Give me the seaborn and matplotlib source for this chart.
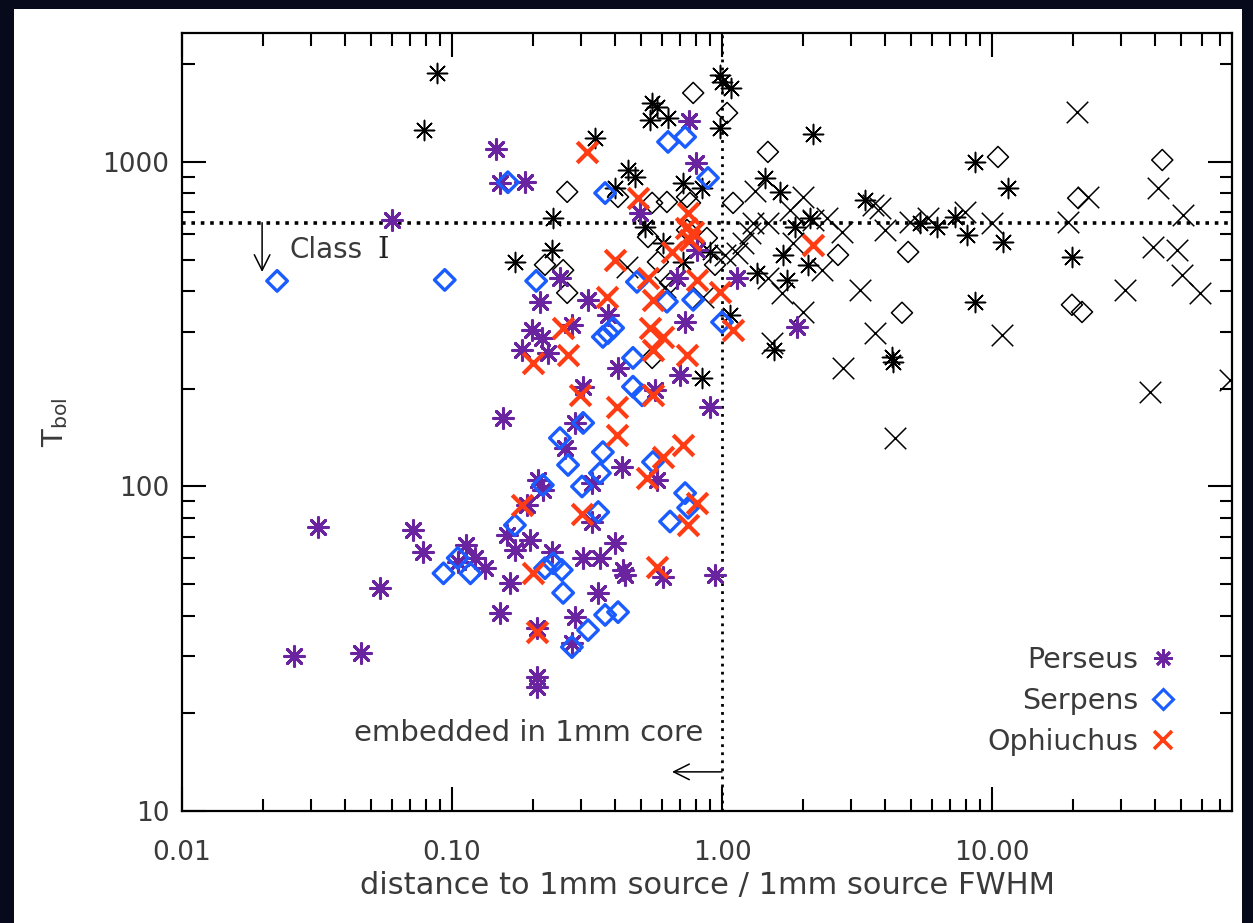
import numpy as np
import pandas as pd
import matplotlib
matplotlib.use("Agg")
import matplotlib.pyplot as plt
from matplotlib.lines import Line2D
from matplotlib.patches import Rectangle
from matplotlib.ticker import FixedLocator, FixedFormatter, LogLocator, NullFormatter
import seaborn as sns

# ---------------- data ----------------
# Perseus protostars (purple asterisks)
perseus_x = [0.146, 0.151, 0.186, 0.060, 0.755, 0.801, 0.497, 0.807, 0.251, 0.681,
             1.137, 0.212, 0.319, 0.378, 0.278, 0.730, 1.895, 0.198, 0.216, 0.182,
             0.227, 0.306, 0.412, 0.698, 0.565, 0.904, 0.155, 0.286, 0.262, 0.427,
             0.330, 0.208, 0.217, 0.574, 0.190, 0.330, 0.160, 0.195, 0.171, 0.402,
             0.235, 0.306, 0.353, 0.430, 0.438, 0.604, 0.942, 0.164, 0.348, 0.286,
             0.151, 0.207, 0.278, 0.207, 0.207, 0.032, 0.072, 0.078, 0.113, 0.122,
             0.133, 0.054, 0.026, 0.046, 0.105]
perseus_y = [1096, 860, 866, 662, 1337, 993, 696, 535, 439, 439,
             439, 371, 376, 337, 315, 321, 310, 303, 287, 264,
             258, 203, 232, 221, 198, 176, 163, 157, 131, 115,
             102.5, 105, 97.5, 105, 88, 78, 71, 68.4, 63.7, 67,
             62.8, 60, 60, 55.3, 53.4, 52.6, 53.4, 50.4, 47, 39.6,
             40.7, 36.6, 32.9, 25.9, 24.1, 75, 73.4, 62.8, 66.1, 60.2,
             56.1, 48.7, 30.1, 30.7, 58.5]

# Serpens protostars (blue diamonds)
serpens_x = [0.0225, 0.094, 0.161, 0.205, 0.369, 0.631, 0.730, 0.887, 0.484, 0.625,
             0.782, 1.0, 0.362, 0.378, 0.395, 0.468, 0.468, 0.506, 0.306, 0.251,
             0.362, 0.269, 0.353, 0.555, 0.303, 0.217, 0.730, 0.749, 0.348, 0.642,
             0.171, 0.221, 0.237, 0.255, 0.093, 0.105, 0.117, 0.258, 0.319, 0.369,
             0.412, 0.278]
serpens_y = [430, 433, 866, 430, 802, 1153, 1194, 893, 427, 371,
             376, 321, 289, 297, 308, 249, 203, 191, 157, 141,
             127.6, 116.5, 110, 119, 100, 101, 95.4, 86, 83.4, 78,
             76, 56, 58, 55.3, 54, 60.2, 54, 47, 36.1, 40.2,
             41, 32]

# Ophiuchus protostars (red crosses)
ophiuchus_x = [0.316, 0.488, 0.749, 0.736, 0.782, 0.761, 0.653, 0.402, 0.532, 0.807,
               0.984, 1.099, 2.174, 0.375, 0.555, 0.298, 0.258, 0.269, 0.200, 0.541,
               0.604, 0.555, 0.742, 0.408, 0.555, 0.408, 0.718, 0.604, 0.527, 0.182,
               0.303, 0.807, 0.749, 0.200, 0.574, 0.207]
ophiuchus_y = [1074, 774, 696, 626, 608, 575, 528, 499, 439, 433,
               398, 303, 555, 384, 376, 191, 308, 254, 240, 308,
               289, 264, 254, 176, 191, 144, 134, 123, 106, 88,
               82, 89, 76, 54, 56.5, 35.6]

# Class II comparison sources (black)
perseus2_x = [0.088, 0.079, 0.339, 0.551, 0.574, 0.541, 0.631, 0.984, 1.0, 1.079,
              0.984, 0.448, 0.476, 0.402, 0.718, 0.843, 0.237, 0.519, 0.604, 0.718,
              0.235, 0.171, 0.843, 1.071, 2.174, 1.443, 1.640, 3.388, 2.118, 1.864,
              1.682, 1.348, 1.741, 2.083, 1.558, 4.27, 4.30, 5.41, 6.25, 7.29,
              8.07, 10.99, 8.65, 11.46, 19.77, 8.65, 0.904]
perseus2_y = [1880, 1255, 1186, 1520, 1477, 1346, 1367, 1854, 1765, 1690,
              1273, 945, 899, 832, 860, 832, 672, 631, 563, 492,
              535, 492, 216, 337, 1219, 893, 809, 764, 672, 631,
              517, 455, 433, 482, 264, 251, 242, 649, 631, 677,
              596, 567, 1000, 832, 510, 371, 528]

serpens2_x = [0.782, 1.044, 1.479, 0.267, 0.412, 0.551, 0.625, 0.742, 0.761, 1.099,
              0.532, 0.742, 0.879, 0.579, 0.942, 0.221, 0.258, 0.267, 0.642, 2.69,
              4.89, 4.64, 10.52, 42.7, 20.84, 19.77, 21.54, 0.551]
serpens2_y = [1632, 1416, 1074, 809, 780, 748, 753, 780, 748, 748,
              587, 617, 583, 492, 482, 482, 464, 395, 424, 517,
              528, 343, 1036, 1014, 774, 363, 345, 249]

ophiuchus2_x = [20.65, 1.324, 1.995, 3.85, 3.62, 1.786, 2.174, 2.449, 1.303, 1.479,
                4.02, 2.78, 1.270, 1.196, 1.137, 1.832, 2.345, 1.479, 1.667, 3.243,
                1.995, 3.687, 1.531, 2.806, 4.97, 5.79, 7.94, 10.0, 19.1, 22.69,
                41.2, 50.9, 39.5, 48.5, 50.6, 58.9, 31.1, 38.5, 10.89, 4.375,
                76.0, 0.445, 0.615, 0.851, 1.026]
ophiuchus2_y = [1426, 815, 780, 721, 737, 711, 662, 672, 649, 649,
                617, 608, 604, 563, 525, 563, 464, 439, 395, 403,
                345, 297, 277, 232, 653, 672, 701, 649, 653, 780,
                832, 687, 547, 535, 448, 395, 403, 196, 293, 141,
                213, 475, 412, 384, 517]

legend_labels = ["Perseus", "Serpens", "Ophiuchus"]
x_ticks = [0.01, 0.1, 1.0, 10.0]
x_ticklabels = ["0.01", "0.10", "1.00", "10.00"]
y_ticks = [10, 100, 1000]
y_ticklabels = ["10", "100", "1000"]
class_boundary = 650
embedded_limit = 1.0

# ---------------- style ----------------
sns.set_style("ticks")
plt.rcParams['font.family'] = ['DejaVu Sans']
plt.rcParams['mathtext.fontset'] = 'dejavusans'
TXT = '#3a3a3a'
PURPLE = '#6b24a0'
BLUE = '#1a5cff'
RED = '#ff3c14'
ASTER = (8, 2, 0)

fig = plt.figure(figsize=(12.53, 9.23), dpi=100, facecolor='#070a1a')
bg = Rectangle((14 / 1253, 0), (1242 - 14) / 1253, 1 - 9 / 923,
               transform=fig.transFigure, facecolor='white',
               edgecolor='none', zorder=-10)
fig.patches.append(bg)
ax = fig.add_axes([182 / 1253, (923 - 811) / 923, 1050 / 1253, 778 / 923])
ax.set_zorder(5)
ax.set_facecolor('white')
ax.set_xscale('log')
ax.set_yscale('log')
ax.set_xlim(0.01, 77.4)
ax.set_ylim(10, 2497)


def draw(xs, ys, marker, color, size, lw, hollow=False):
    df = pd.DataFrame({'x': xs, 'y': ys})
    n0 = len(ax.collections)
    sns.scatterplot(data=df, x='x', y='y', marker=marker, color=color, s=size,
                    linewidth=lw, edgecolor=color, ax=ax, legend=False, zorder=3)
    coll = ax.collections[n0]
    if hollow:
        coll.set_facecolor('none')
    coll.set_edgecolor(color)


# black comparison sources
draw(perseus2_x, perseus2_y, ASTER, 'black', 210, 1.1)
draw(serpens2_x, serpens2_y, 'D', 'black', 115, 1.1, hollow=True)
draw(ophiuchus2_x, ophiuchus2_y, 'x', 'black', 240, 1.1)
# coloured protostars
draw(perseus_x, perseus_y, ASTER, PURPLE, 200, 2.2)
draw(serpens_x, serpens_y, 'D', BLUE, 110, 2.4, hollow=True)
draw(ophiuchus_x, ophiuchus_y, 'x', RED, 220, 3.0)

# boundary lines
ax.axhline(class_boundary, color='black', lw=2.6, ls=(0, (1, 1.6)), zorder=2)
ax.axvline(embedded_limit, color='black', lw=2.0, ls=(0, (1, 1.9)), zorder=2)

# annotations
ax.annotate('', xy=(0.0198, 458), xytext=(0.0198, class_boundary),
            arrowprops=dict(arrowstyle='->', color='black', lw=1.1,
                            mutation_scale=28, shrinkA=0, shrinkB=0))
ax.text(0.025, 536, 'Class', fontsize=20, color=TXT, ha='left', va='center')
ax.text(0.0555, 536, 'I', fontsize=21, color='#222222', ha='center',
        va='center', family='DejaVu Serif')
ax.text(0.85, 17.4, 'embedded in 1mm core', fontsize=21, color=TXT,
        ha='right', va='center')
ax.annotate('', xy=(0.653, 13.2), xytext=(1.0, 13.2),
            arrowprops=dict(arrowstyle='->', color='black', lw=1.1,
                            mutation_scale=28, shrinkA=0, shrinkB=0))

# ticks
ax.xaxis.set_major_locator(FixedLocator(x_ticks))
ax.xaxis.set_major_formatter(FixedFormatter(x_ticklabels))
ax.yaxis.set_major_locator(FixedLocator(y_ticks))
ax.yaxis.set_major_formatter(FixedFormatter(y_ticklabels))
ax.xaxis.set_minor_locator(LogLocator(base=10, subs=np.arange(2, 10), numticks=20))
ax.yaxis.set_minor_locator(LogLocator(base=10, subs=np.arange(2, 10), numticks=20))
ax.xaxis.set_minor_formatter(NullFormatter())
ax.yaxis.set_minor_formatter(NullFormatter())
ax.tick_params(which='both', direction='in', top=True, right=True,
               colors='black', labelcolor=TXT, labelsize=19, width=1.5)
ax.tick_params(which='major', length=17)
ax.tick_params(which='minor', length=9)
ax.tick_params(axis='x', which='major', pad=21)
ax.tick_params(axis='y', which='major', pad=9)
for sp in ax.spines.values():
    sp.set_linewidth(1.6)
    sp.set_color('black')

ax.set_xlabel('distance to 1mm source / 1mm source FWHM', fontsize=22,
              color=TXT)
ax.xaxis.set_label_coords(0.5, -0.077)
ax.set_ylabel(r'T$_{\rm bol}$', fontsize=21, color=TXT)
ax.yaxis.set_label_coords(-0.107, 0.5)

# legend
handles = [
    Line2D([], [], ls='none', marker=ASTER, markersize=13, markeredgewidth=2.0,
           color=PURPLE),
    Line2D([], [], ls='none', marker='D', markersize=10, markeredgewidth=2.2,
           markerfacecolor='none', markeredgecolor=BLUE),
    Line2D([], [], ls='none', marker='x', markersize=13, markeredgewidth=2.6,
           color=RED),
]
leg = ax.legend(handles, legend_labels, loc='lower right', markerfirst=False,
                frameon=False, fontsize=20.5, labelcolor=TXT, handlelength=1.0,
                handletextpad=0.35, labelspacing=0.45,
                bbox_to_anchor=(0.972, 0.038))
for t in leg.get_texts():
    t.set_ha('right')

fig.savefig('out.png', dpi=100, facecolor=fig.get_facecolor())
